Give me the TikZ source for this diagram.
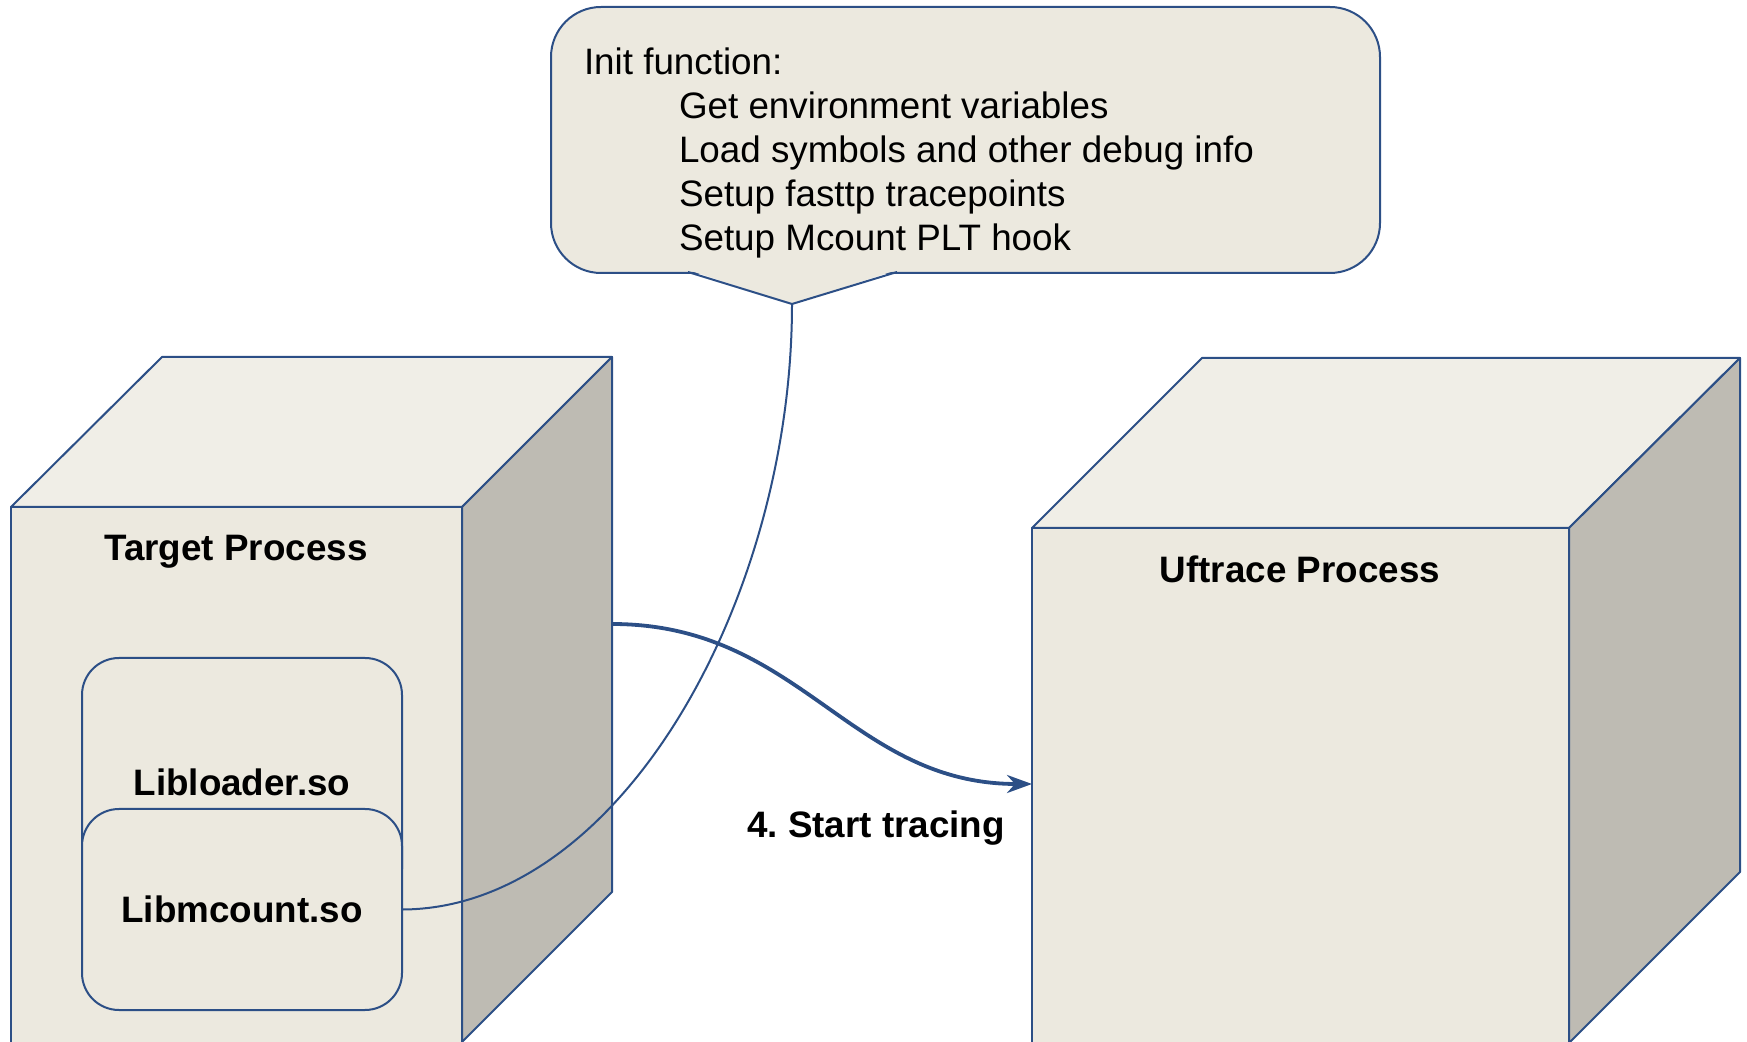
\documentclass[tikz,border=0pt]{standalone}
\usepackage{fontspec}
\setmainfont{Liberation Sans}
\usetikzlibrary{arrows.meta}
\definecolor{edgeblue}{HTML}{2C4F86}
\definecolor{frontfill}{HTML}{ECE9DF}
\definecolor{topfill}{HTML}{F0EEE7}
\definecolor{sidefill}{HTML}{BEBBB3}
\frenchspacing

\begin{document}
\begin{tikzpicture}[x=0.5pt,y=-0.5pt,line width=1pt]
	\tikzset{face/.style={draw=edgeblue,line join=round},
		front face/.style={face,fill=frontfill},
		top face/.style={face,fill=topfill},
		side face/.style={face,fill=sidefill},
		big label/.style={font=\fontsize{18.4pt}{22pt}\selectfont\bfseries,inner sep=0pt},
		lib box/.style={big label,draw=edgeblue,fill=frontfill,rounded corners=18.5pt,minimum width=160pt,anchor=north west}}
	\useasboundingbox (0,0) rectangle (1747,1042);
	\clip (0,0) rectangle (1747,1042);

	% target process cube
	\fill[front face] (11,507) rectangle (462,1070);
	\fill[top face] (11,507) -- (162,357) -- (612,357) -- (462,507) -- cycle;
	\fill[side face] (462,507) -- (612,357) -- (612,892) -- (462,1042) -- cycle;
	\node[big label,anchor=base] (target lbl) at (236,561) {Target Process};

	\node[lib box,minimum height=124pt] (libloader) at (81,657) {Libloader.so};
	\node[lib box,minimum height=100.5pt] (libmcount) at (81,808) {Libmcount.so};

	% uftrace process cube
	\fill[front face] (1032,528) rectangle (1569,1070);
	\fill[top face] (1032,528) -- (1202,358) -- (1740,358) -- (1569,528) -- cycle;
	\fill[side face] (1569,528) -- (1740,358) -- (1740,872) -- (1569,1043) -- cycle;
	\node[big label,anchor=base] (uftrace lbl) at (1300,583) {Uftrace Process};

	% init callout
	\node[draw=edgeblue,fill=frontfill,rounded corners=25pt,minimum width=414.5pt,minimum height=133pt,anchor=north west] (init) at (550,6) {};
	\coordinate (ptr l) at (688,272);
	\coordinate (ptr r) at (897,272);
	\coordinate (ptr tip) at (792,304);
	\fill[frontfill] ([yshift=1pt]ptr l) -- (ptr tip) -- ([yshift=1pt]ptr r) -- cycle;
	\draw[edgeblue] (ptr l) -- (ptr tip) -- (ptr r);
	\node[anchor=north west,align=left,inner sep=0pt,font=\fontsize{18.4pt}{22pt}\selectfont] (init text) at (583,47)
		{Init function:\\
		\hspace*{47.5pt}Get environment variables\\
		\hspace*{47.5pt}Load symbols and other debug info\\
		\hspace*{47.5pt}Setup fasttp tracepoints\\
		\hspace*{47.5pt}Setup Mcount PLT hook};

	\draw[edgeblue] (libmcount.east) .. controls (620,908) and (792,600) .. (ptr tip);

	\coordinate (tp side) at (612,624);
	\coordinate (uf in) at (1032,784);
	\draw[edgeblue,line width=1.9pt,-{Stealth[length=12.5pt,width=9pt,inset=4pt]}] (tp side) .. controls (800,624) and (850,784) .. (uf in);
	\node[big label,anchor=base] (start lbl) at (876,838) {4. Start tracing};
\end{tikzpicture}
\end{document}
